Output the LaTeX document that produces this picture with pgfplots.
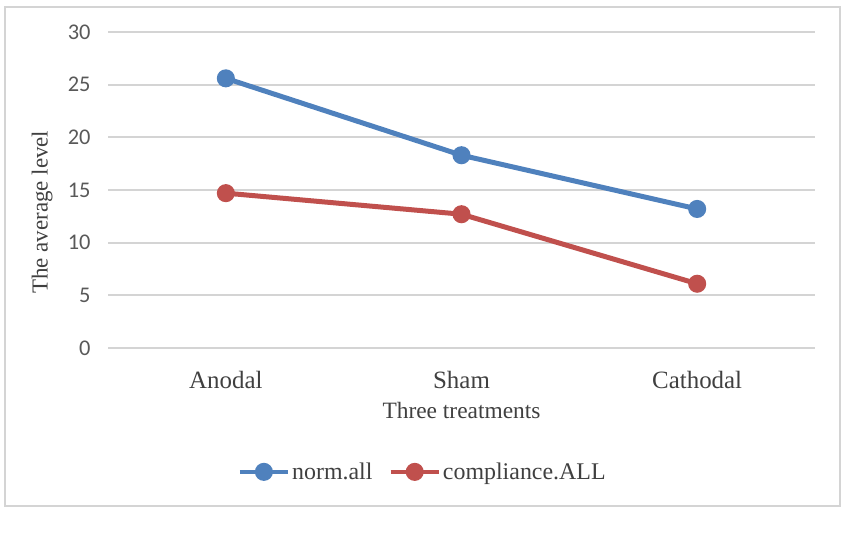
\documentclass[border=0pt]{standalone}
\usepackage{fontspec}
\setmainfont{Liberation Serif}
\newfontfamily\carlito{Carlito}
\usepackage{pgfplots}
\pgfplotsset{compat=1.18}
\definecolor{serA}{HTML}{4F81BD}
\definecolor{serB}{HTML}{C0504D}
\definecolor{gridc}{HTML}{D4D4D4}
\definecolor{txt}{HTML}{595959}
\definecolor{txtd}{HTML}{404040}
\begin{document}
\begin{tikzpicture}[x=1bp,y=1bp]
\useasboundingbox (0,0) rectangle (850,536);
\draw[gridc, line width=1.5bp] (5,30) rectangle (840,529);
\begin{axis}[
  at={(108bp,188bp)}, anchor=south west,
  scale only axis, width=707bp, height=316bp,
  xmin=-0.5, xmax=2.5, ymin=0, ymax=30,
  xtick={0,1,2}, xticklabels={Anodal,Sham,Cathodal},
  ytick={0,5,...,30},
  axis line style={draw=none},
  major tick length=0pt,
  ymajorgrids, grid style={gridc, line width=1.8bp},
  /pgf/number format/assume math mode=true,
  yticklabel style={font=\fontsize{22.5}{26}\selectfont\carlito, text=txt, xshift=-14bp},
  xticklabel style={font=\fontsize{25}{29}\selectfont, text=txtd, yshift=-20bp},
  xlabel={Three treatments}, ylabel={The average level},
  xlabel style={font=\fontsize{23.5}{27}\selectfont, text=txtd,
    at={(axis description cs:0.5,-0.199)}, anchor=center},
  ylabel style={font=\fontsize{23}{27}\selectfont, text=txtd,
    at={(axis description cs:-0.093,0.43)}, anchor=center},
  legend columns=2,
  legend style={draw=none, at={(0.445,-0.392)}, anchor=center,
    font=\fontsize{24}{28}\selectfont, text=txtd},
  legend style={/tikz/every even column/.append style={column sep=14bp}},
  legend image code/.code={
    \draw[#1, line width=4.5bp] (0bp,0bp) -- (48bp,0bp);
    \fill[#1] (24bp,0bp) circle (6.5bp);
  },
]
\addplot[serA, line width=5bp, mark=*, mark size=6.5bp, mark options={solid}]
  coordinates {(0,25.6) (1,18.3) (2,13.2)};
\addlegendentry{norm.all}
\addplot[serB, line width=5bp, mark=*, mark size=6.5bp, mark options={solid}]
  coordinates {(0,14.7) (1,12.7) (2,6.1)};
\addlegendentry{compliance.ALL}
\end{axis}
\end{tikzpicture}
\end{document}
